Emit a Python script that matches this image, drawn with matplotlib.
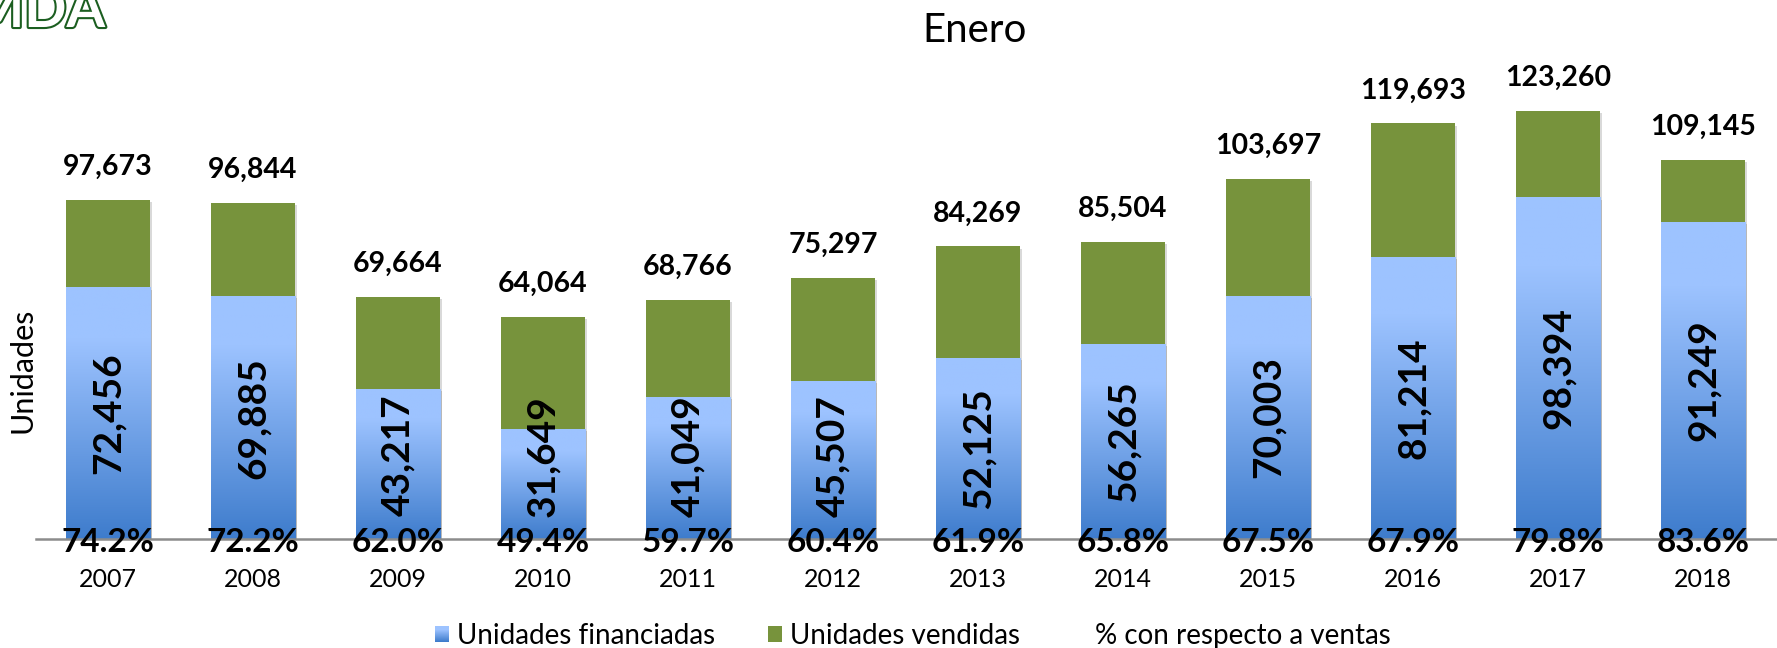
import matplotlib
matplotlib.use('Agg')
import matplotlib.pyplot as plt
import numpy as np
from matplotlib.patches import Rectangle, Patch
from matplotlib.lines import Line2D
from matplotlib.legend_handler import HandlerBase
import matplotlib.patheffects as pe
from matplotlib.colors import to_rgb

# ---------------- data ----------------
years = ['2007', '2008', '2009', '2010', '2011', '2012',
         '2013', '2014', '2015', '2016', '2017', '2018']
financiadas = [72456, 69885, 43217, 31649, 41049, 45507,
               52125, 56265, 70003, 81214, 98394, 91249]
vendidas = [97673, 96844, 69664, 64064, 68766, 75297,
            84269, 85504, 103697, 119693, 123260, 109145]
porcentaje = [74.2, 72.2, 62.0, 49.4, 59.7, 60.4,
              61.9, 65.8, 67.5, 67.9, 79.8, 83.6]

# ---------------- style ----------------
W, H = 1777, 648
GREEN = '#77933C'
LIGHT = np.array(to_rgb('#9DC3FF'))
DARK = np.array(to_rgb('#3E7CCC'))
FONT = 'Lato'

def grad_colors(n=256):
    t = np.linspace(0, 1, n)            # 0 = bottom, 1 = top
    f = np.clip(t / 0.8, 0, 1)
    return DARK[None, :] * (1 - f[:, None]) + LIGHT[None, :] * f[:, None]

fig = plt.figure(figsize=(W / 100, H / 100), dpi=100)
ax = fig.add_axes([35.5 / W, 1 - 539 / H, 1740 / W, (539 - 53) / H])
XL, YL = (-0.5, len(years) - 0.5), (0, 140000)

for s in ['top', 'right', 'left']:
    ax.spines[s].set_visible(False)
ax.spines['bottom'].set_color('#8c8c8c')
ax.spines['bottom'].set_linewidth(1.8)
ax.spines['bottom'].set_zorder(4)
ax.set_yticks([])

x = np.arange(len(years))
shadow = [pe.SimplePatchShadow(offset=(1.5, -1.5), shadow_rgbFace='k', alpha=0.15), pe.Normal()]
gb = ax.bar(x, vendidas, width=0.58, color=GREEN, zorder=2, path_effects=shadow)
bb = ax.bar(x, financiadas, width=0.58, color='#7aa8ec', zorder=3, path_effects=shadow)

img = grad_colors()[::-1][:, None, :]
for rect in bb:
    x0, w, h = rect.get_x(), rect.get_width(), rect.get_height()
    im = ax.imshow(img, extent=(x0, x0 + w, 0, h), aspect='auto', origin='upper',
                   interpolation='bilinear', zorder=3.1)
    im.set_clip_path(rect)

ax.set_xlim(*XL)
ax.set_ylim(*YL)

bold = dict(family=FONT, weight='bold', color='black')
for xi, v in zip(x, vendidas):
    ax.annotate(f'{v:,}', (xi, v), xytext=(0, 18), textcoords='offset points',
                ha='center', va='baseline', fontsize=20.5, zorder=6, **bold)
for xi, v in zip(x, financiadas):
    ax.text(xi, max(v / 2, 24000), f'{v:,}', rotation=90, ha='center', va='center',
            fontsize=28, zorder=6, **bold)
for xi, p in zip(x, porcentaje):
    ax.annotate(f'{p:.1f}%', (xi, 0), xytext=(0, -9.4), textcoords='offset points',
                ha='center', va='baseline', fontsize=24, zorder=7,
                annotation_clip=False, **bold)

ax.set_xticks(x, years)
ax.tick_params(axis='x', length=0, pad=21, labelsize=18)
for lab in ax.get_xticklabels():
    lab.set_family(FONT)

fig.text(975 / W, 1 - 42 / H, 'Enero', ha='center', va='baseline',
         fontsize=29, family=FONT)
fig.text(22 / W, 1 - 370 / H, 'Unidades', rotation=90, ha='center', va='center',
         fontsize=22, family=FONT)

# logo fragment (cut at the top edge, as in the reference)
fig.text(105 / W, 1 - 27 / H, 'MDA', ha='right', va='baseline', fontsize=40,
         family=FONT, weight='bold', color='white',
         path_effects=[pe.withStroke(linewidth=3, foreground='#1B5E20')])

# legend
class GradHandler(HandlerBase):
    def create_artists(self, legend, orig_handle, xdescent, ydescent, width, height,
                       fontsize, trans):
        n = 16
        cols = grad_colors(n)
        arts = []
        for i in range(n):
            r = Rectangle((-xdescent, -ydescent + i * height / n), width, height / n + 0.01,
                          facecolor=cols[i], edgecolor='none', transform=trans)
            arts.append(r)
        return arts

h_fin = Patch(label='Unidades financiadas')
h_ven = Patch(facecolor=GREEN, label='Unidades vendidas')
h_pct = Line2D([], [], linestyle='none', label='% con respecto a ventas')
fig.legend(handles=[h_fin, h_ven, h_pct], handler_map={h_fin: GradHandler()},
           ncol=3, loc='center', bbox_to_anchor=(913 / W, 1 - 636 / H), frameon=False,
           prop=dict(family=FONT, size=20), handlelength=0.5, handleheight=0.5,
           handletextpad=0.3, columnspacing=1.9)

fig.savefig('out.png', dpi=100)
